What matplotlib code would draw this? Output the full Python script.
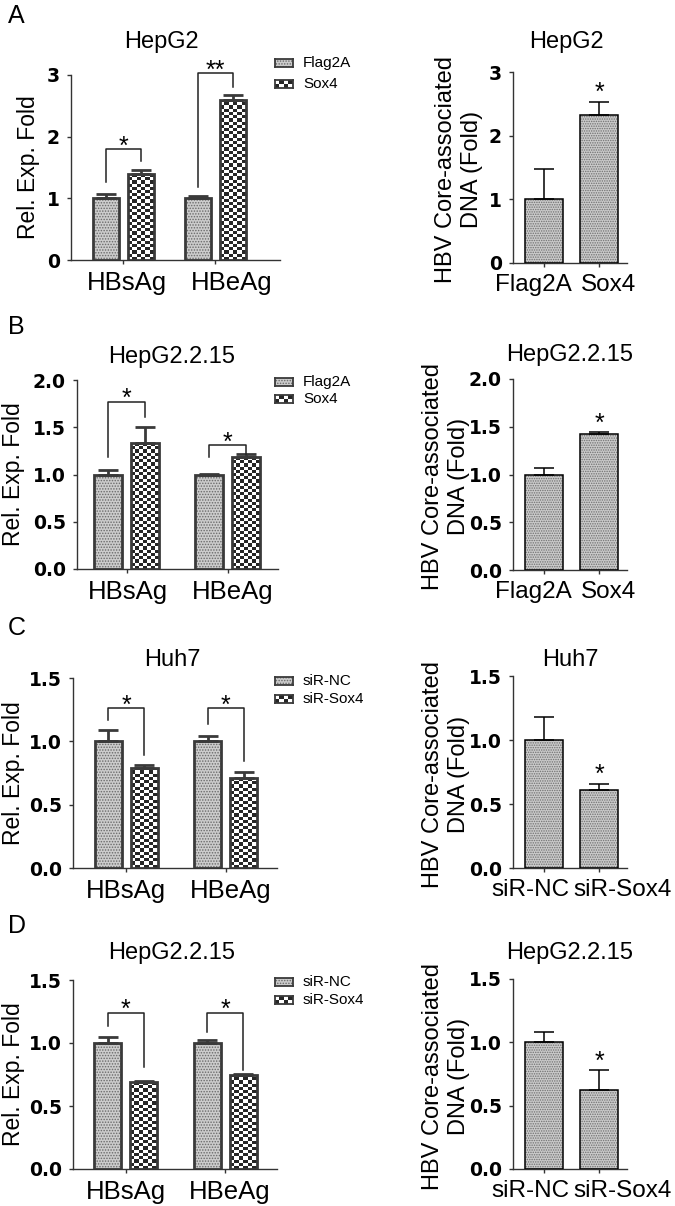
import numpy as np
import matplotlib
matplotlib.use('Agg')
import matplotlib.pyplot as plt
from matplotlib.colors import ListedColormap
from matplotlib.transforms import ScaledTranslation

plt.rcParams['font.family'] = ['Liberation Sans', 'DejaVu Sans']
plt.rcParams['hatch.linewidth'] = 0.7

W, H = 675, 1206
fig = plt.figure(figsize=(W / 100, H / 100), dpi=100)

groups = ['HBsAg', 'HBeAg']

# A: HepG2, Flag2A vs Sox4
a_legend = ['Flag2A', 'Sox4']
a_ctrl = [1.00, 1.00]
a_ctrl_err = [0.07, 0.04]
a_treat = [1.39, 2.60]
a_treat_err = [0.07, 0.07]
a_brackets = [[1.80, 1.26, 1.60], [3.03, 1.18, 2.80]]
a_stars = ['*', '**']
a_yticks = [0, 1, 2, 3]
a_dna = [1.00, 2.33]
a_dna_err = [0.47, 0.20]

# B: HepG2.2.15, Flag2A vs Sox4
b_legend = ['Flag2A', 'Sox4']
b_ctrl = [1.00, 1.00]
b_ctrl_err = [0.05, 0.01]
b_treat = [1.33, 1.18]
b_treat_err = [0.17, 0.04]
b_brackets = [[1.77, 1.19, 1.61], [1.31, 1.18, 1.22]]
b_stars = ['*', '*']
b_yticks = [0.0, 0.5, 1.0, 1.5, 2.0]
b_dna = [1.00, 1.42]
b_dna_err = [0.065, 0.02]

# C: Huh7, siR-NC vs siR-Sox4
c_legend = ['siR-NC', 'siR-Sox4']
c_ctrl = [1.00, 1.00]
c_ctrl_err = [0.09, 0.04]
c_treat = [0.79, 0.71]
c_treat_err = [0.02, 0.045]
c_brackets = [[1.26, 1.165, 0.89], [1.26, 1.14, 0.845]]
c_stars = ['*', '*']
c_yticks = [0.0, 0.5, 1.0, 1.5]
c_dna = [1.00, 0.61]
c_dna_err = [0.18, 0.05]

# D: HepG2.2.15, siR-NC vs siR-Sox4
d_legend = ['siR-NC', 'siR-Sox4']
d_ctrl = [1.00, 1.00]
d_ctrl_err = [0.05, 0.02]
d_treat = [0.69, 0.75]
d_treat_err = [0.01, 0.005]
d_brackets = [[1.24, 1.136, 0.81], [1.24, 1.09, 0.787]]
d_stars = ['*', '*']
d_yticks = [0.0, 0.5, 1.0, 1.5]
d_dna = [1.00, 0.62]
d_dna_err = [0.085, 0.16]

checker_cmap = ListedColormap(['white', '#262626'])
DARK = '#3a3a3a'


def px_axes(x0, x1, ytop, ybot):
    return fig.add_axes([x0 / W, 1 - ybot / H, (x1 - x0) / W, (ybot - ytop) / H])


def ftext(x, y, s, **kw):
    fig.text(x / W, 1 - y / H, s, **kw)


def style_axes(ax, yticks, fmt, xsize):
    for s in ['top', 'right']:
        ax.spines[s].set_visible(False)
    for s in ['left', 'bottom']:
        ax.spines[s].set_linewidth(1.0)
        ax.spines[s].set_color('#333333')
    ax.set_yticks(yticks)
    ax.set_yticklabels([fmt % v for v in yticks], fontsize=13.5, fontweight='bold',
                       family='DejaVu Sans')
    ax.tick_params(axis='both', length=3, width=1.0, color='#333333', pad=5)
    ax.tick_params(axis='x', labelsize=xsize)


def shift_labels(ax, shifts):
    for lab, dx in zip(ax.get_xticklabels(), shifts):
        lab.set_transform(lab.get_transform() + ScaledTranslation(dx / 100, 0, fig.dpi_scale_trans))


def checker_fill(ax, bars, cw=4.3, ch=3.2):
    for b in bars:
        x, w, h = b.get_x(), b.get_width(), b.get_height()
        (px0, py0), (px1, py1) = ax.transData.transform([(x, 0), (x + w, h)])
        nc = max(1, int(round((px1 - px0) / cw)))
        nr = max(1, int(round((py1 - py0) / ch)))
        pat = np.indices((nr, nc)).sum(axis=0) % 2
        im = ax.imshow(pat, cmap=checker_cmap, extent=(x, x + w, 0, h), origin='lower',
                       aspect='auto', interpolation='nearest', zorder=2, vmin=0, vmax=1)
        im.set_clip_path(b)


def legend_box(x, y, label, checker):
    lax = fig.add_axes([x / W, 1 - (y + 4) / H, 18 / W, 8 / H])
    if checker:
        pat = np.indices((2, 4)).sum(axis=0) % 2
        lax.imshow(pat, cmap=checker_cmap, aspect='auto', interpolation='nearest', vmin=0, vmax=1)
    else:
        lax.set_facecolor('#cccccc')
        lax.add_patch(plt.Rectangle((0, 0), 1, 1, transform=lax.transAxes, facecolor='#cccccc',
                                    edgecolor='#6a6a6a', lw=0, hatch='......'))
    lax.set_xticks([])
    lax.set_yticks([])
    for s in lax.spines.values():
        s.set_linewidth(1.3)
        s.set_color(DARK)
    ftext(x + 28, y, label, fontsize=11, va='center', ha='left')


def left_panel(geom, ymax, yticks, fmt, ctrl, ctrl_err, treat, treat_err, brackets, stars,
               title, title_xy, legend, legend_y, ylab_x, shifts):
    x0, x1, ytop, ybot, c0, c1, bw, gap = geom
    sp = c1 - c0
    ax = px_axes(x0, x1, ytop, ybot)
    ax.set_xlim((x0 - c0) / sp, (x1 - c0) / sp)
    ax.set_ylim(0, ymax)
    x = np.arange(len(groups))
    w = bw / sp
    off = (bw + gap) / 2 / sp
    ax.bar(x - off, ctrl, w, color='#cccccc', edgecolor='#6a6a6a', lw=0, hatch='......', zorder=2)
    ax.bar(x - off, ctrl, w, fill=False, edgecolor=DARK, lw=2.0, zorder=4)
    tb = ax.bar(x + off, treat, w, color='white', lw=0, zorder=1)
    checker_fill(ax, tb)
    ax.bar(x + off, treat, w, fill=False, edgecolor=DARK, lw=2.0, zorder=4)
    ax.errorbar(x - off, ctrl, yerr=[np.zeros(2), ctrl_err], fmt='none', ecolor=DARK,
                elinewidth=2.0, capsize=7, capthick=2.0, zorder=3)
    ax.errorbar(x + off, treat, yerr=[np.zeros(2), treat_err], fmt='none', ecolor=DARK,
                elinewidth=2.0, capsize=7, capthick=2.0, zorder=3)
    for i, (top, lb, rb) in enumerate(brackets):
        ax.plot([i - off, i - off, i + off, i + off], [lb, top, top, rb], color='#222222',
                lw=1.1, clip_on=False, zorder=5)
        ax.annotate(stars[i], xy=(i, top), xytext=(0, 7.2 - 0.575 * 18), textcoords='offset points',
                    ha='center', va='baseline', fontsize=18, annotation_clip=False)
    ax.set_xticks(x)
    ax.set_xticklabels(groups)
    style_axes(ax, yticks, fmt, 18.5)
    shift_labels(ax, shifts)
    ftext(title_xy[0], title_xy[1], title, fontsize=17, ha='center', va='center')
    ftext(ylab_x, (ytop + ybot) / 2, 'Rel. Exp. Fold', fontsize=16.5, rotation=90,
          ha='center', va='center')
    legend_box(275, legend_y[0], legend[0], False)
    legend_box(275, legend_y[1], legend[1], True)


def right_panel(ytop, ybot, ymax, yticks, fmt, vals, errs, xlabels, shifts, title, title_xy, ylab_x):
    x0, x1, c0, c1, bw = 513, 627, 544, 599, 38
    sp = c1 - c0
    ax = px_axes(x0, x1, ytop, ybot)
    ax.set_xlim((x0 - c0) / sp, (x1 - c0) / sp)
    ax.set_ylim(0, ymax)
    x = np.arange(len(vals))
    ax.bar(x, vals, bw / sp, color='#cacaca', edgecolor='#707070', lw=0, hatch='.......', zorder=2)
    ax.bar(x, vals, bw / sp, fill=False, edgecolor='black', lw=1.1, zorder=4)
    ax.errorbar(x, vals, yerr=[np.zeros(2), errs], fmt='none', ecolor='black',
                elinewidth=1.1, capsize=7, capthick=1.1, zorder=3)
    ax.annotate('*', xy=(1, vals[1] + errs[1]), xytext=(0, 11.5 - 0.575 * 18),
                textcoords='offset points', ha='center', va='baseline', fontsize=18,
                annotation_clip=False)
    ax.set_xticks(x)
    ax.set_xticklabels(xlabels)
    style_axes(ax, yticks, fmt, 17.5)
    shift_labels(ax, shifts)
    ftext(title_xy[0], title_xy[1], title, fontsize=17, ha='center', va='center')
    ftext(ylab_x, (ytop + ybot) / 2 + 2, 'HBV Core-associated\nDNA (Fold)', fontsize=17,
          rotation=90, ha='center', va='center', multialignment='center')


# row A
left_panel((71, 280, 75, 260, 123, 215, 26, 9), 3, a_yticks, '%d', a_ctrl, a_ctrl_err,
           a_treat, a_treat_err, a_brackets, a_stars, 'HepG2', (161, 42), a_legend, (63, 84),
           28, (4, 17))
right_panel(72, 263, 3, a_yticks, '%d', a_dna, a_dna_err, a_legend, (-11, 10), 'HepG2',
            (566, 42), 459)

# row B
left_panel((77, 278, 380, 569, 126.5, 227.5, 28, 9), 2.0, b_yticks, '%.1f', b_ctrl, b_ctrl_err,
           b_treat, b_treat_err, b_brackets, b_stars, 'HepG2.2.15', (172, 357), b_legend,
           (382, 399), 14, (1, 5))
right_panel(379, 570, 2.0, b_yticks, '%.1f', b_dna, b_dna_err, b_legend, (-11, 10),
            'HepG2.2.15', (570, 355), 446)

# row C
left_panel((73, 277, 678, 868, 126, 225.5, 27, 9), 1.5, c_yticks, '%.1f', c_ctrl, c_ctrl_err,
           c_treat, c_treat_err, c_brackets, c_stars, 'Huh7', (172, 660), c_legend,
           (681, 699), 14, (0, 5))
right_panel(676, 868, 1.5, c_yticks, '%.1f', c_dna, c_dna_err, c_legend, (-14, 24), 'Huh7',
            (570, 660), 446)

# row D
left_panel((73, 277, 980, 1169, 125.5, 225, 27, 9), 1.5, d_yticks, '%.1f', d_ctrl, d_ctrl_err,
           d_treat, d_treat_err, d_brackets, d_stars, 'HepG2.2.15', (172, 953), d_legend,
           (982, 1000), 14, (0, 5))
right_panel(979, 1169, 1.5, d_yticks, '%.1f', d_dna, d_dna_err, d_legend, (-14, 24),
            'HepG2.2.15', (570, 953), 446)

for letter, y in zip(['A', 'B', 'C', 'D'], [16, 327, 628, 926]):
    ftext(8, y, letter, fontsize=18, ha='left', va='center')

fig.savefig('out.png', dpi=100)
